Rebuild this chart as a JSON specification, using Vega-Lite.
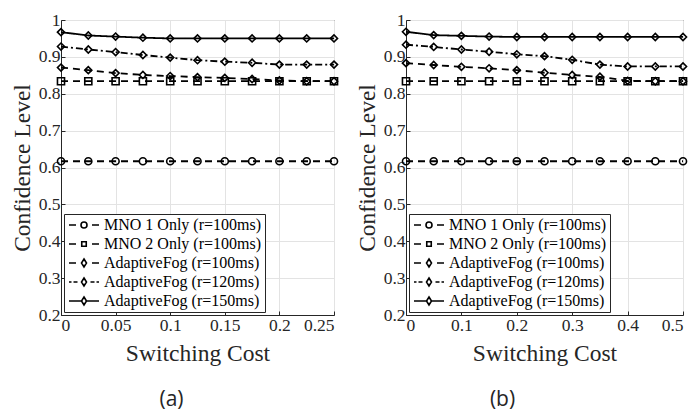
{
  "$schema": "https://vega.github.io/schema/vega-lite/v6.json",
  "padding": {"left": 9, "top": 10, "right": 0, "bottom": 0},
  "background": "white",
  "spacing": 72,
  "bounds": "flush",
  "config": {
    "font": "Liberation Serif",
    "view": {"stroke": "#262626", "strokeWidth": 1},
    "axis": {
      "labelFont": "Liberation Serif",
      "labelFontSize": 17.5,
      "labelColor": "#262626",
      "titleFont": "Liberation Serif",
      "titleFontSize": 23.5,
      "titleFontWeight": "normal",
      "titleColor": "#262626",
      "gridColor": "#e3e3e3",
      "gridWidth": 1,
      "domainColor": "#262626",
      "tickColor": "#262626",
      "tickSize": -4,
      "labelPadding": 5
    },
    "legend": {
      "labelFont": "Liberation Serif",
      "labelFontSize": 16,
      "labelColor": "black",
      "labelLimit": 400,
      "strokeColor": "#262626",
      "fillColor": "white",
      "padding": 3,
      "rowPadding": 3,
      "symbolSize": 100,
      "symbolOffset": 9,
      "labelOffset": 12,
      "symbolStrokeWidth": 1.6,
      "symbolStrokeColor": "black",
      "symbolFillColor": "transparent",
      "offset": 3,
      "orient": "bottom-left"
    },
    "title": {"font": "Open Sans", "fontSize": 21, "fontWeight": "normal", "color": "#262626", "orient": "bottom", "offset": 24}
  },
  "datasets": {
    "a": [
      {"x": 0, "s": "MNO 1 Only (r=100ms)", "y": 0.617}, {"x": 0.025, "s": "MNO 1 Only (r=100ms)", "y": 0.617}, {"x": 0.05, "s": "MNO 1 Only (r=100ms)", "y": 0.617}, {"x": 0.075, "s": "MNO 1 Only (r=100ms)", "y": 0.617}, {"x": 0.1, "s": "MNO 1 Only (r=100ms)", "y": 0.617}, {"x": 0.125, "s": "MNO 1 Only (r=100ms)", "y": 0.617}, {"x": 0.15, "s": "MNO 1 Only (r=100ms)", "y": 0.617}, {"x": 0.175, "s": "MNO 1 Only (r=100ms)", "y": 0.617}, {"x": 0.2, "s": "MNO 1 Only (r=100ms)", "y": 0.617}, {"x": 0.225, "s": "MNO 1 Only (r=100ms)", "y": 0.617}, {"x": 0.25, "s": "MNO 1 Only (r=100ms)", "y": 0.617},
      {"x": 0, "s": "MNO 2 Only (r=100ms)", "y": 0.834}, {"x": 0.025, "s": "MNO 2 Only (r=100ms)", "y": 0.834}, {"x": 0.05, "s": "MNO 2 Only (r=100ms)", "y": 0.834}, {"x": 0.075, "s": "MNO 2 Only (r=100ms)", "y": 0.834}, {"x": 0.1, "s": "MNO 2 Only (r=100ms)", "y": 0.834}, {"x": 0.125, "s": "MNO 2 Only (r=100ms)", "y": 0.834}, {"x": 0.15, "s": "MNO 2 Only (r=100ms)", "y": 0.834}, {"x": 0.175, "s": "MNO 2 Only (r=100ms)", "y": 0.834}, {"x": 0.2, "s": "MNO 2 Only (r=100ms)", "y": 0.834}, {"x": 0.225, "s": "MNO 2 Only (r=100ms)", "y": 0.834}, {"x": 0.25, "s": "MNO 2 Only (r=100ms)", "y": 0.834},
      {"x": 0, "s": "AdaptiveFog (r=100ms)", "y": 0.871}, {"x": 0.025, "s": "AdaptiveFog (r=100ms)", "y": 0.864}, {"x": 0.05, "s": "AdaptiveFog (r=100ms)", "y": 0.856}, {"x": 0.075, "s": "AdaptiveFog (r=100ms)", "y": 0.851}, {"x": 0.1, "s": "AdaptiveFog (r=100ms)", "y": 0.848}, {"x": 0.125, "s": "AdaptiveFog (r=100ms)", "y": 0.845}, {"x": 0.15, "s": "AdaptiveFog (r=100ms)", "y": 0.843}, {"x": 0.175, "s": "AdaptiveFog (r=100ms)", "y": 0.840}, {"x": 0.2, "s": "AdaptiveFog (r=100ms)", "y": 0.836}, {"x": 0.225, "s": "AdaptiveFog (r=100ms)", "y": 0.834}, {"x": 0.25, "s": "AdaptiveFog (r=100ms)", "y": 0.834},
      {"x": 0, "s": "AdaptiveFog (r=120ms)", "y": 0.928}, {"x": 0.025, "s": "AdaptiveFog (r=120ms)", "y": 0.920}, {"x": 0.05, "s": "AdaptiveFog (r=120ms)", "y": 0.913}, {"x": 0.075, "s": "AdaptiveFog (r=120ms)", "y": 0.905}, {"x": 0.1, "s": "AdaptiveFog (r=120ms)", "y": 0.898}, {"x": 0.125, "s": "AdaptiveFog (r=120ms)", "y": 0.891}, {"x": 0.15, "s": "AdaptiveFog (r=120ms)", "y": 0.887}, {"x": 0.175, "s": "AdaptiveFog (r=120ms)", "y": 0.884}, {"x": 0.2, "s": "AdaptiveFog (r=120ms)", "y": 0.879}, {"x": 0.225, "s": "AdaptiveFog (r=120ms)", "y": 0.879}, {"x": 0.25, "s": "AdaptiveFog (r=120ms)", "y": 0.879},
      {"x": 0, "s": "AdaptiveFog (r=150ms)", "y": 0.967}, {"x": 0.025, "s": "AdaptiveFog (r=150ms)", "y": 0.958}, {"x": 0.05, "s": "AdaptiveFog (r=150ms)", "y": 0.955}, {"x": 0.075, "s": "AdaptiveFog (r=150ms)", "y": 0.952}, {"x": 0.1, "s": "AdaptiveFog (r=150ms)", "y": 0.950}, {"x": 0.125, "s": "AdaptiveFog (r=150ms)", "y": 0.950}, {"x": 0.15, "s": "AdaptiveFog (r=150ms)", "y": 0.950}, {"x": 0.175, "s": "AdaptiveFog (r=150ms)", "y": 0.950}, {"x": 0.2, "s": "AdaptiveFog (r=150ms)", "y": 0.950}, {"x": 0.225, "s": "AdaptiveFog (r=150ms)", "y": 0.950}, {"x": 0.25, "s": "AdaptiveFog (r=150ms)", "y": 0.950}
    ],
    "b": [
      {"x": 0, "s": "MNO 1 Only (r=100ms)", "y": 0.617}, {"x": 0.05, "s": "MNO 1 Only (r=100ms)", "y": 0.617}, {"x": 0.1, "s": "MNO 1 Only (r=100ms)", "y": 0.617}, {"x": 0.15, "s": "MNO 1 Only (r=100ms)", "y": 0.617}, {"x": 0.2, "s": "MNO 1 Only (r=100ms)", "y": 0.617}, {"x": 0.25, "s": "MNO 1 Only (r=100ms)", "y": 0.617}, {"x": 0.3, "s": "MNO 1 Only (r=100ms)", "y": 0.617}, {"x": 0.35, "s": "MNO 1 Only (r=100ms)", "y": 0.617}, {"x": 0.4, "s": "MNO 1 Only (r=100ms)", "y": 0.617}, {"x": 0.45, "s": "MNO 1 Only (r=100ms)", "y": 0.617}, {"x": 0.5, "s": "MNO 1 Only (r=100ms)", "y": 0.617},
      {"x": 0, "s": "MNO 2 Only (r=100ms)", "y": 0.834}, {"x": 0.05, "s": "MNO 2 Only (r=100ms)", "y": 0.834}, {"x": 0.1, "s": "MNO 2 Only (r=100ms)", "y": 0.834}, {"x": 0.15, "s": "MNO 2 Only (r=100ms)", "y": 0.834}, {"x": 0.2, "s": "MNO 2 Only (r=100ms)", "y": 0.834}, {"x": 0.25, "s": "MNO 2 Only (r=100ms)", "y": 0.834}, {"x": 0.3, "s": "MNO 2 Only (r=100ms)", "y": 0.834}, {"x": 0.35, "s": "MNO 2 Only (r=100ms)", "y": 0.834}, {"x": 0.4, "s": "MNO 2 Only (r=100ms)", "y": 0.834}, {"x": 0.45, "s": "MNO 2 Only (r=100ms)", "y": 0.834}, {"x": 0.5, "s": "MNO 2 Only (r=100ms)", "y": 0.834},
      {"x": 0, "s": "AdaptiveFog (r=100ms)", "y": 0.883}, {"x": 0.05, "s": "AdaptiveFog (r=100ms)", "y": 0.878}, {"x": 0.1, "s": "AdaptiveFog (r=100ms)", "y": 0.873}, {"x": 0.15, "s": "AdaptiveFog (r=100ms)", "y": 0.869}, {"x": 0.2, "s": "AdaptiveFog (r=100ms)", "y": 0.864}, {"x": 0.25, "s": "AdaptiveFog (r=100ms)", "y": 0.857}, {"x": 0.3, "s": "AdaptiveFog (r=100ms)", "y": 0.851}, {"x": 0.35, "s": "AdaptiveFog (r=100ms)", "y": 0.846}, {"x": 0.4, "s": "AdaptiveFog (r=100ms)", "y": 0.835}, {"x": 0.45, "s": "AdaptiveFog (r=100ms)", "y": 0.834}, {"x": 0.5, "s": "AdaptiveFog (r=100ms)", "y": 0.834},
      {"x": 0, "s": "AdaptiveFog (r=120ms)", "y": 0.933}, {"x": 0.05, "s": "AdaptiveFog (r=120ms)", "y": 0.927}, {"x": 0.1, "s": "AdaptiveFog (r=120ms)", "y": 0.920}, {"x": 0.15, "s": "AdaptiveFog (r=120ms)", "y": 0.914}, {"x": 0.2, "s": "AdaptiveFog (r=120ms)", "y": 0.907}, {"x": 0.25, "s": "AdaptiveFog (r=120ms)", "y": 0.902}, {"x": 0.3, "s": "AdaptiveFog (r=120ms)", "y": 0.892}, {"x": 0.35, "s": "AdaptiveFog (r=120ms)", "y": 0.879}, {"x": 0.4, "s": "AdaptiveFog (r=120ms)", "y": 0.874}, {"x": 0.45, "s": "AdaptiveFog (r=120ms)", "y": 0.874}, {"x": 0.5, "s": "AdaptiveFog (r=120ms)", "y": 0.874},
      {"x": 0, "s": "AdaptiveFog (r=150ms)", "y": 0.968}, {"x": 0.05, "s": "AdaptiveFog (r=150ms)", "y": 0.959}, {"x": 0.1, "s": "AdaptiveFog (r=150ms)", "y": 0.957}, {"x": 0.15, "s": "AdaptiveFog (r=150ms)", "y": 0.955}, {"x": 0.2, "s": "AdaptiveFog (r=150ms)", "y": 0.954}, {"x": 0.25, "s": "AdaptiveFog (r=150ms)", "y": 0.954}, {"x": 0.3, "s": "AdaptiveFog (r=150ms)", "y": 0.954}, {"x": 0.35, "s": "AdaptiveFog (r=150ms)", "y": 0.954}, {"x": 0.4, "s": "AdaptiveFog (r=150ms)", "y": 0.954}, {"x": 0.45, "s": "AdaptiveFog (r=150ms)", "y": 0.954}, {"x": 0.5, "s": "AdaptiveFog (r=150ms)", "y": 0.954}
    ]
  },
  "resolve": {"scale": {"x": "independent"}},
  "hconcat": [
    {
      "width": 273,
      "height": 295,
      "title": {"text": "(a)", "dx": -26},
      "data": {"name": "a"},
      "encoding": {
        "x": {"field": "x", "type": "quantitative", "title": "Switching Cost",
          "scale": {"domain": [0, 0.25], "nice": false},
          "axis": {"values": [0, 0.05, 0.1, 0.15, 0.2, 0.25], "format": "~g", "titlePadding": 8}},
        "y": {"field": "y", "type": "quantitative", "title": "Confidence Level",
          "scale": {"domain": [0.2, 1], "nice": false},
          "axis": {"values": [0.2, 0.3, 0.4, 0.5, 0.6, 0.7, 0.8, 0.9, 1], "format": "~g", "titlePadding": 4}}
      },
      "layer": [
        {
          "mark": {"type": "line", "color": "black", "strokeWidth": 1.8},
          "encoding": {
            "strokeDash": {"field": "s", "type": "nominal",
              "scale": {"domain": ["MNO 1 Only (r=100ms)", "MNO 2 Only (r=100ms)", "AdaptiveFog (r=100ms)", "AdaptiveFog (r=120ms)", "AdaptiveFog (r=150ms)"],
                "range": [[7, 5], [7, 5], [7, 5], [7, 3, 2, 3], [1, 0]]},
              "legend": null}
          }
        },
        {
          "mark": {"type": "point", "filled": false, "color": "black", "strokeWidth": 1.6, "size": 50, "opacity": 1},
          "encoding": {
            "shape": {"field": "s", "type": "nominal",
              "scale": {"domain": ["MNO 1 Only (r=100ms)", "MNO 2 Only (r=100ms)", "AdaptiveFog (r=100ms)", "AdaptiveFog (r=120ms)", "AdaptiveFog (r=150ms)"],
                "range": ["circle", "square", "diamond", "diamond", "diamond"]},
              "legend": null}
          }
        },
        {
          "transform": [{"filter": "datum.x < 0"}],
          "mark": {"type": "point", "filled": false, "color": "black", "strokeWidth": 1.6, "opacity": 1},
          "encoding": {
            "shape": {"field": "s", "type": "nominal",
              "scale": {"domain": ["MNO 1 Only (r=100ms)", "MNO 2 Only (r=100ms)", "AdaptiveFog (r=100ms)", "AdaptiveFog (r=120ms)", "AdaptiveFog (r=150ms)"],
                "range": [
                  "M-3,0L-1.6,0M1.6,0L3,0M-0.6,0A0.6,0.6 0 1,0 0.6,0A0.6,0.6 0 1,0 -0.6,0Z",
                  "M-3,0L-1.6,0M1.6,0L3,0M-0.45,-0.45L0.45,-0.45L0.45,0.45L-0.45,0.45Z",
                  "M-3,0L-1.6,0M1.6,0L3,0M0,-0.8L0.5,0L0,0.8L-0.5,0Z",
                  "M-3,0L-2.5,0M-2.1,0L-1.3,0M1.3,0L2.1,0M2.5,0L3,0M0,-0.8L0.5,0L0,0.8L-0.5,0Z",
                  "M-3,0L-0.5,0M0.5,0L3,0M0,-0.8L0.5,0L0,0.8L-0.5,0Z"
                ]},
              "legend": {"title": null}}
          }
        }
      ],
      "resolve": {"scale": {"shape": "independent"}, "legend": {"shape": "independent"}}
    },
    {
      "width": 277,
      "height": 295,
      "title": {"text": "(b)", "dx": -42},
      "data": {"name": "b"},
      "encoding": {
        "x": {"field": "x", "type": "quantitative", "title": "Switching Cost",
          "scale": {"domain": [0, 0.5], "nice": false},
          "axis": {"values": [0, 0.1, 0.2, 0.3, 0.4, 0.5], "format": "~g", "titlePadding": 8}},
        "y": {"field": "y", "type": "quantitative", "title": "Confidence Level",
          "scale": {"domain": [0.2, 1], "nice": false},
          "axis": {"values": [0.2, 0.3, 0.4, 0.5, 0.6, 0.7, 0.8, 0.9, 1], "format": "~g", "titlePadding": 4}}
      },
      "layer": [
        {
          "mark": {"type": "line", "color": "black", "strokeWidth": 1.8},
          "encoding": {
            "strokeDash": {"field": "s", "type": "nominal",
              "scale": {"domain": ["MNO 1 Only (r=100ms)", "MNO 2 Only (r=100ms)", "AdaptiveFog (r=100ms)", "AdaptiveFog (r=120ms)", "AdaptiveFog (r=150ms)"],
                "range": [[7, 5], [7, 5], [7, 5], [7, 3, 2, 3], [1, 0]]},
              "legend": null}
          }
        },
        {
          "mark": {"type": "point", "filled": false, "color": "black", "strokeWidth": 1.6, "size": 50, "opacity": 1},
          "encoding": {
            "shape": {"field": "s", "type": "nominal",
              "scale": {"domain": ["MNO 1 Only (r=100ms)", "MNO 2 Only (r=100ms)", "AdaptiveFog (r=100ms)", "AdaptiveFog (r=120ms)", "AdaptiveFog (r=150ms)"],
                "range": ["circle", "square", "diamond", "diamond", "diamond"]},
              "legend": null}
          }
        },
        {
          "transform": [{"filter": "datum.x < 0"}],
          "mark": {"type": "point", "filled": false, "color": "black", "strokeWidth": 1.6, "opacity": 1},
          "encoding": {
            "shape": {"field": "s", "type": "nominal",
              "scale": {"domain": ["MNO 1 Only (r=100ms)", "MNO 2 Only (r=100ms)", "AdaptiveFog (r=100ms)", "AdaptiveFog (r=120ms)", "AdaptiveFog (r=150ms)"],
                "range": [
                  "M-3,0L-1.6,0M1.6,0L3,0M-0.6,0A0.6,0.6 0 1,0 0.6,0A0.6,0.6 0 1,0 -0.6,0Z",
                  "M-3,0L-1.6,0M1.6,0L3,0M-0.45,-0.45L0.45,-0.45L0.45,0.45L-0.45,0.45Z",
                  "M-3,0L-1.6,0M1.6,0L3,0M0,-0.8L0.5,0L0,0.8L-0.5,0Z",
                  "M-3,0L-2.5,0M-2.1,0L-1.3,0M1.3,0L2.1,0M2.5,0L3,0M0,-0.8L0.5,0L0,0.8L-0.5,0Z",
                  "M-3,0L-0.5,0M0.5,0L3,0M0,-0.8L0.5,0L0,0.8L-0.5,0Z"
                ]},
              "legend": {"title": null}}
          }
        }
      ],
      "resolve": {"scale": {"shape": "independent"}, "legend": {"shape": "independent"}}
    }
  ]
}
